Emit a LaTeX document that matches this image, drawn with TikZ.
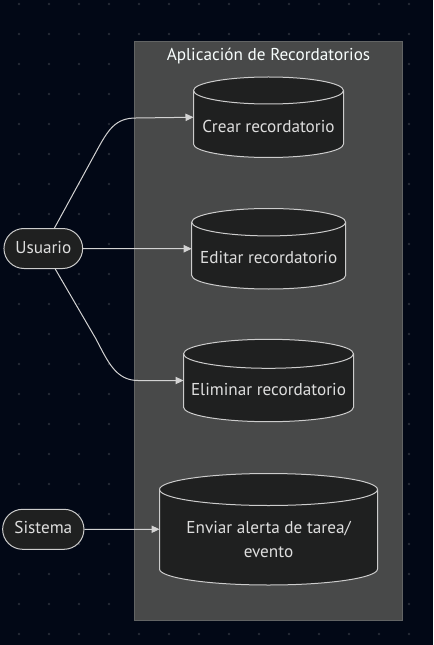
\documentclass[tikz,border=0pt]{standalone}
\usepackage{fontspec}
\setmainfont{PT Sans}
\usetikzlibrary{arrows.meta}
\definecolor{bgcol}{RGB}{2,8,22}
\definecolor{dotcol}{RGB}{38,43,54}
\definecolor{clusterfill}{RGB}{72,73,73}
\definecolor{clusterline}{RGB}{98,100,100}
\definecolor{nodefill}{RGB}{31,32,32}
\definecolor{nodeline}{RGB}{204,204,204}
\definecolor{textcol}{RGB}{222,222,222}
\definecolor{titlecol}{RGB}{249,255,254}
\definecolor{edgecol}{RGB}{211,211,211}
\tikzset{
  txt/.style={font=\fontsize{12.9}{18}\selectfont, text=textcol, inner sep=0pt},
  actor/.style={txt, draw=nodeline, fill=nodefill, line width=0.75pt, rounded corners=15pt,
    minimum height=30pt, text height=0.7em, text depth=0pt},
  cylbody/.style={inner sep=0pt, outer sep=0pt},
  cylfill/.style={fill=nodefill, draw=nodeline, line width=0.75pt},
  cylline/.style={draw=nodeline, line width=0.75pt},
  cyltext/.style={txt, text height=0.7em, text depth=0pt},
  flow/.style={draw=edgecol, line width=0.75pt, -{Triangle[length=6pt,width=5.5pt]}},
}
\newcommand\cylshape[5]{% cx, top, bottom, rx, ry
  \path[cylfill] ({#1-#4},{#2+#5}) -- ({#1-#4},{#3-#5})
    arc[start angle=180,end angle=360,x radius={#4*0.75pt},y radius={#5*0.75pt}]
    -- ({#1+#4},{#2+#5})
    arc[start angle=0,end angle=180,x radius={#4*0.75pt},y radius={#5*0.75pt}] -- cycle;
  \path[cylline] ({#1-#4},{#2+#5})
    arc[start angle=180,end angle=360,x radius={#4*0.75pt},y radius={#5*0.75pt}];
}
\begin{document}
\begin{tikzpicture}[x=0.75pt,y=-0.75pt]
\useasboundingbox (0,0) rectangle (433,645);
\fill[bgcol] (0,0) rectangle (433,645);
\foreach \xx in {19,49,...,439} {
  \foreach \yy in {4,34,...,644} {
    \fill[dotcol] (\xx,\yy) circle[radius=1pt];
  }
}
% cluster
\path[fill=clusterfill, draw=clusterline, line width=0.75pt] (134.5,41.5) rectangle (402.5,620.5);
\node[txt, text=titlecol, anchor=base] (title) at (268.5,60.3) {Aplicación de Recordatorios};

% cylinders
\cylshape{268.5}{77}{157.5}{75}{13.5}
\node[cylbody, minimum width=112.5pt, minimum height=60.4pt] (crear) at (268.5,117.25) {};
\node[cyltext] (crearlbl) at (268.5,127.5) {Crear recordatorio};

\cylshape{268.7}{208.5}{289}{77}{13.7}
\node[cylbody, minimum width=115.5pt, minimum height=60.4pt] (editar) at (268.7,248.75) {};
\node[cyltext] (editarlbl) at (268.7,259.2) {Editar recordatorio};

\cylshape{268.5}{339.3}{421.7}{85}{14.5}
\node[cylbody, minimum width=127.5pt, minimum height=61.8pt] (elim) at (268.5,380.5) {};
\node[cyltext] (elimlbl) at (268.5,391.2) {Eliminar recordatorio};

\cylshape{268.5}{473.5}{585}{109}{16}
\node[cylbody, minimum width=163.5pt, minimum height=83.6pt] (enviar) at (268.5,529.25) {};
\node[txt, align=center] (enviarlbl) at (268.5,539.8) {Enviar alerta de tarea/\\evento};

% actors
\node[actor, minimum width=59pt] (usr) at (43.3,248.5) {Usuario};
\node[actor, minimum width=61pt] (sis) at (43.3,529.3) {Sistema};

% edges
\draw[flow] (usr) -- (96,152) .. controls (108,130) and (115,118) .. (136,118) -- (crear.west);
\draw[flow] (usr.east) -- (editar.west);
\draw[flow] (usr) -- (96,339) .. controls (108,362) and (116,380.5) .. (138,380.5) -- (elim.west);
\draw[flow] (sis.east) -- (enviar.west);
\end{tikzpicture}
\end{document}
